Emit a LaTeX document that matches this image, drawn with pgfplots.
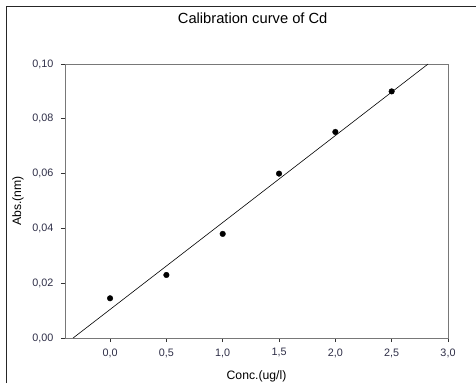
\documentclass[border=0pt]{standalone}
\usepackage{fontspec}
\setmainfont{Liberation Sans}
\usepackage{pgfplots}
\pgfplotsset{compat=1.18}
\definecolor{ticktext}{RGB}{45,45,70}
\definecolor{spine}{RGB}{120,120,120}
\begin{document}
\begin{tikzpicture}[x=1pt,y=1pt]
\begin{axis}[
  at={(65pt,45pt)}, anchor=south west,
  scale only axis, width=383pt, height=274pt,
  xmin=-0.4, xmax=3.0, ymin=0, ymax=0.10,
  xtick={0,0.5,1.0,1.5,2.0,2.5,3.0},
  ytick={0,0.02,0.04,0.06,0.08,0.10},
  xtick pos=bottom, ytick pos=left,
  tick align=outside, major tick length=4pt,
  axis line style={spine, line width=0.9pt},
  every tick/.style={black!80, line width=0.7pt},
  /pgf/number format/assume math mode=true,
  xticklabel style={/pgf/number format/.cd, fixed, fixed zerofill, precision=1, use comma, /tikz/.cd, font=\fontsize{10.8}{12}\selectfont, text=ticktext, yshift=-3pt},
  yticklabel style={/pgf/number format/.cd, fixed, fixed zerofill, precision=2, use comma, /tikz/.cd, font=\fontsize{10.8}{12}\selectfont, text=ticktext, xshift=-4pt},
  scaled y ticks=false,
  title={Calibration curve of Cd},
  title style={at={(axis description cs:0.49,1.146)}, anchor=center, font=\fontsize{14.7}{16}\selectfont},
  xlabel={Conc.(ug/l)},
  xlabel style={at={(axis description cs:0.5,-0.1387)}, anchor=center, font=\fontsize{12.2}{14}\selectfont},
  ylabel={Abs.(nm)},
  ylabel style={at={(axis description cs:-0.1227,0.5)}, anchor=center, font=\fontsize{12.2}{14}\selectfont},
]
\addplot[black, line width=0.6pt] coordinates {(-0.328,0) (2.823,0.10)};
\addplot[only marks, mark=*, mark size=2.8pt, black] coordinates {
(0.0,0.0145) (0.5,0.0230) (1.0,0.0380) (1.5,0.0600) (2.0,0.0752) (2.5,0.0900)};
\end{axis}
\pgfresetboundingbox
\useasboundingbox (0,0) rectangle (476,383);
\draw[line width=1pt, black!85] (6.5,0) -- (6.5,376) -- (476,376);
\end{tikzpicture}
\end{document}
